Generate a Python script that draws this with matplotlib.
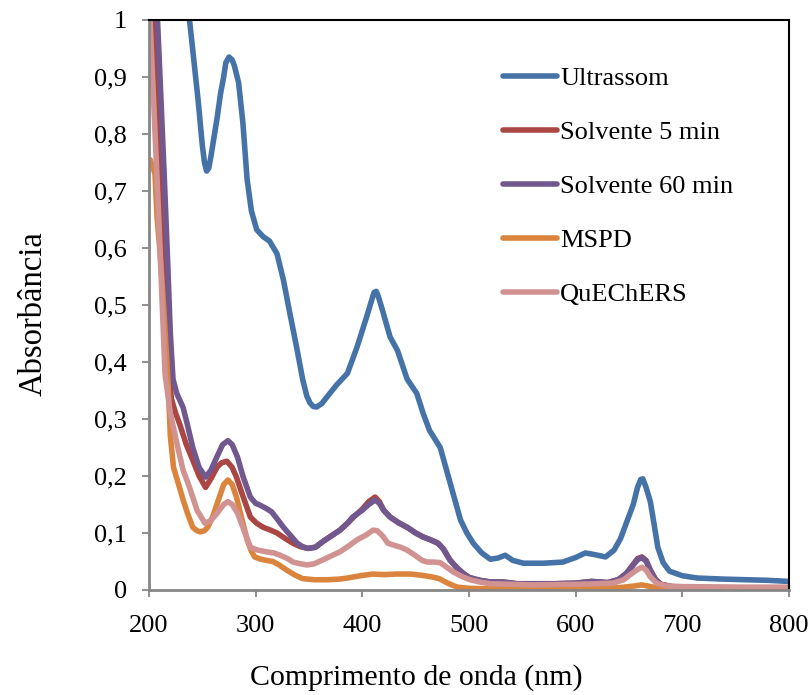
import matplotlib
matplotlib.use("Agg")
import matplotlib.pyplot as plt
from matplotlib.ticker import FuncFormatter, MultipleLocator

plt.rcParams['font.family'] = ['Liberation Serif', 'DejaVu Serif']

# absorbance spectra for each extraction method
wl_us = [235, 238, 242, 246, 250, 252, 254, 256, 258, 261, 264, 267, 270, 272, 275, 278,
         280, 284, 288, 292, 296, 301, 307, 313, 320, 326, 332, 339, 344, 348, 351, 354,
         357, 362, 367, 376, 386, 395, 404, 409, 411, 413, 415, 419, 426, 433, 442, 451,
         457, 463, 473, 482, 492, 498, 504, 512, 520, 527, 534, 541, 551, 570, 588, 600,
         609, 618, 628, 636, 642, 648, 654, 658, 661, 663, 666, 670, 674, 677, 682, 688,
         700, 714, 740, 760, 780, 800]
abs_us = [1.06, 1.0, 0.93, 0.86, 0.78, 0.75, 0.735, 0.74, 0.76, 0.795, 0.83, 0.87, 0.9,
          0.925, 0.935, 0.93, 0.92, 0.89, 0.82, 0.72, 0.665, 0.632, 0.62, 0.612, 0.59,
          0.544, 0.486, 0.42, 0.37, 0.34, 0.328, 0.322, 0.321, 0.327, 0.339, 0.36, 0.38,
          0.426, 0.479, 0.51, 0.522, 0.524, 0.515, 0.49, 0.444, 0.42, 0.37, 0.345, 0.31,
          0.28, 0.25, 0.19, 0.123, 0.1, 0.082, 0.065, 0.054, 0.056, 0.061, 0.052, 0.047,
          0.047, 0.049, 0.057, 0.065, 0.062, 0.058, 0.07, 0.09, 0.12, 0.15, 0.18, 0.194,
          0.195, 0.18, 0.155, 0.11, 0.075, 0.048, 0.033, 0.025, 0.021, 0.019, 0.018, 0.017,
          0.015]

wl_s5 = [204, 207, 210, 214, 218, 221, 225, 229, 235, 241, 247, 253, 258, 264, 268, 273,
         278, 282, 288, 295, 301, 307, 314, 320, 328, 335, 342, 349, 356, 363, 371, 379,
         386, 393, 400, 406, 412, 416, 420, 426, 434, 442, 450, 457, 464, 471, 476, 482,
         488, 494, 500, 510, 520, 532, 545, 560, 580, 600, 615, 630, 640, 648, 654, 658,
         662, 666, 670, 675, 680, 690, 700, 720, 750, 780, 800]
abs_s5 = [1.0, 0.85, 0.72, 0.55, 0.4, 0.335, 0.31, 0.29, 0.255, 0.228, 0.2, 0.18, 0.195,
          0.216, 0.223, 0.226, 0.215, 0.198, 0.165, 0.128, 0.117, 0.11, 0.105, 0.1, 0.09,
          0.082, 0.076, 0.073, 0.075, 0.085, 0.095, 0.105, 0.117, 0.13, 0.142, 0.155, 0.163,
          0.155, 0.14, 0.128, 0.118, 0.11, 0.1, 0.093, 0.088, 0.082, 0.072, 0.053, 0.04,
          0.03, 0.022, 0.017, 0.014, 0.014, 0.011, 0.011, 0.011, 0.012, 0.015, 0.013, 0.018,
          0.03, 0.045, 0.055, 0.058, 0.052, 0.035, 0.018, 0.01, 0.006, 0.005, 0.004, 0.004,
          0.003, 0.003]

wl_s60 = [206, 208, 211, 214, 217, 220, 222.5, 226, 232, 236, 241, 247, 253, 258, 264,
          269, 274, 278, 283, 288, 295, 300, 304, 310, 315, 320, 326, 333, 339, 344, 349,
          356, 363, 371, 379, 386, 391, 400, 406, 412, 416, 420, 426, 434, 442, 450, 457,
          464, 471, 476, 482, 488, 494, 500, 510, 520, 532, 545, 560, 580, 600, 615, 630,
          640, 648, 654, 658, 662, 666, 670, 675, 680, 690, 700, 720, 750, 780, 800]
abs_s60 = [1.05, 1.0, 0.87, 0.74, 0.6, 0.45, 0.37, 0.345, 0.32, 0.29, 0.25, 0.215, 0.198,
           0.21, 0.235, 0.255, 0.262, 0.255, 0.233, 0.2, 0.163, 0.152, 0.149, 0.143, 0.137,
           0.125, 0.11, 0.095, 0.082, 0.076, 0.073, 0.075, 0.085, 0.095, 0.105, 0.117,
           0.128, 0.14, 0.15, 0.158, 0.152, 0.14, 0.128, 0.118, 0.11, 0.1, 0.093, 0.088,
           0.082, 0.072, 0.053, 0.04, 0.03, 0.022, 0.017, 0.014, 0.014, 0.011, 0.011, 0.011,
           0.012, 0.015, 0.013, 0.018, 0.03, 0.044, 0.053, 0.057, 0.051, 0.034, 0.018, 0.01,
           0.006, 0.005, 0.004, 0.004, 0.003, 0.003]

wl_mspd = [200, 201, 203, 205.6, 207.5, 210, 213, 215, 218, 220, 223, 227, 232, 236, 241,
           245, 248, 252, 255, 260, 266, 270, 274, 278, 282, 287, 292, 296, 299, 305, 310,
           316, 322, 329, 336, 344, 355, 367, 378, 386, 398, 410, 420, 432, 445, 455, 465,
           472, 480, 489, 500, 520, 560, 600, 640, 655, 662, 670, 680, 720, 800]
abs_mspd = [0.755, 0.755, 0.745, 0.73, 0.655, 0.6, 0.52, 0.456, 0.36, 0.27, 0.215, 0.19,
            0.158, 0.135, 0.11, 0.104, 0.102, 0.104, 0.11, 0.13, 0.163, 0.185, 0.193, 0.185,
            0.163, 0.125, 0.088, 0.068, 0.058, 0.054, 0.052, 0.05, 0.044, 0.035, 0.027, 0.02,
            0.018, 0.018, 0.019, 0.021, 0.025, 0.028, 0.027, 0.028, 0.028, 0.026, 0.023,
            0.02, 0.012, 0.005, 0.003, 0.002, 0.002, 0.003, 0.004, 0.007, 0.009, 0.006,
            0.003, 0.002, 0.002]

wl_qu = [201, 205, 209, 212, 215, 220, 227, 232, 238, 245, 252.5, 258, 264, 270, 274, 278,
         283, 288, 295, 302, 310, 317, 323, 330, 335, 342, 348, 355, 363, 371, 379, 387,
         395, 404, 410, 414, 419, 424, 429, 436, 442, 450, 456, 461, 467, 473, 479, 485,
         493, 501, 510, 520, 540, 560, 600, 620, 635, 645, 652, 658, 662, 666, 670, 676,
         685, 700, 750, 800]
abs_qu = [1.0, 0.83, 0.66, 0.52, 0.38, 0.31, 0.25, 0.21, 0.18, 0.14, 0.117, 0.122, 0.135,
          0.15, 0.155, 0.15, 0.135, 0.11, 0.075, 0.07, 0.067, 0.065, 0.061, 0.055, 0.049,
          0.046, 0.044, 0.046, 0.053, 0.06, 0.067, 0.077, 0.088, 0.097, 0.105, 0.104, 0.095,
          0.082, 0.079, 0.075, 0.07, 0.06, 0.052, 0.049, 0.049, 0.048, 0.04, 0.032, 0.024,
          0.018, 0.014, 0.011, 0.01, 0.009, 0.01, 0.011, 0.012, 0.018, 0.028, 0.036, 0.04,
          0.035, 0.023, 0.012, 0.007, 0.006, 0.005, 0.005]

series = [
    ("Ultrassom", wl_us, abs_us, "#4572A7"),
    ("Solvente 5 min", wl_s5, abs_s5, "#AA4643"),
    ("Solvente 60 min", wl_s60, abs_s60, "#71588F"),
    ("MSPD", wl_mspd, abs_mspd, "#DB843D"),
    ("QuEChERS", wl_qu, abs_qu, "#D09392"),
]

W, H = 811, 695
fig = plt.figure(figsize=(W / 100, H / 100), dpi=100)
ax = fig.add_axes([149 / W, 1 - 590 / H, 640 / W, 570 / H])

for name, x, y, c in series:
    ax.plot(x, y, color=c, lw=4.0, label=name,
            solid_joinstyle="round", solid_capstyle="round")

ax.set_xlim(200, 800)
ax.set_ylim(0, 1)
ax.xaxis.set_major_locator(MultipleLocator(100))
ax.yaxis.set_major_locator(MultipleLocator(0.1))

def comma(v, pos):
    s = "%.1f" % v
    if s.endswith(".0"):
        s = s[:-2]
    return s.replace(".", ",")

ax.yaxis.set_major_formatter(FuncFormatter(comma))

for side in ("left", "bottom"):
    ax.spines[side].set_color("#868686")
    ax.spines[side].set_linewidth(2)
for side in ("top", "right"):
    ax.spines[side].set_color("black")
    ax.spines[side].set_linewidth(1.5)

ax.tick_params(axis="both", direction="out", length=5, width=1.3,
               color="#868686", labelsize=19)
ax.tick_params(axis="y", pad=11)
ax.tick_params(axis="x", pad=13)

# axis titles placed in figure pixels
fig.text(416 / W, 10 / H, "Comprimento de onda (nm)", fontsize=21.5,
         ha="center", va="baseline")
fig.text(33 / W, 1 - 314 / H, "Absorbância", fontsize=23.5, rotation=90,
         ha="center", va="center")

leg = ax.legend(loc="upper left", bbox_to_anchor=(503 / W, 1 - 67 / H),
                bbox_transform=fig.transFigure, frameon=False, fontsize=19,
                handlelength=2.05, handletextpad=0.12, labelspacing=1.15,
                borderaxespad=0, borderpad=0)

fig.savefig("out.png", dpi=100)
